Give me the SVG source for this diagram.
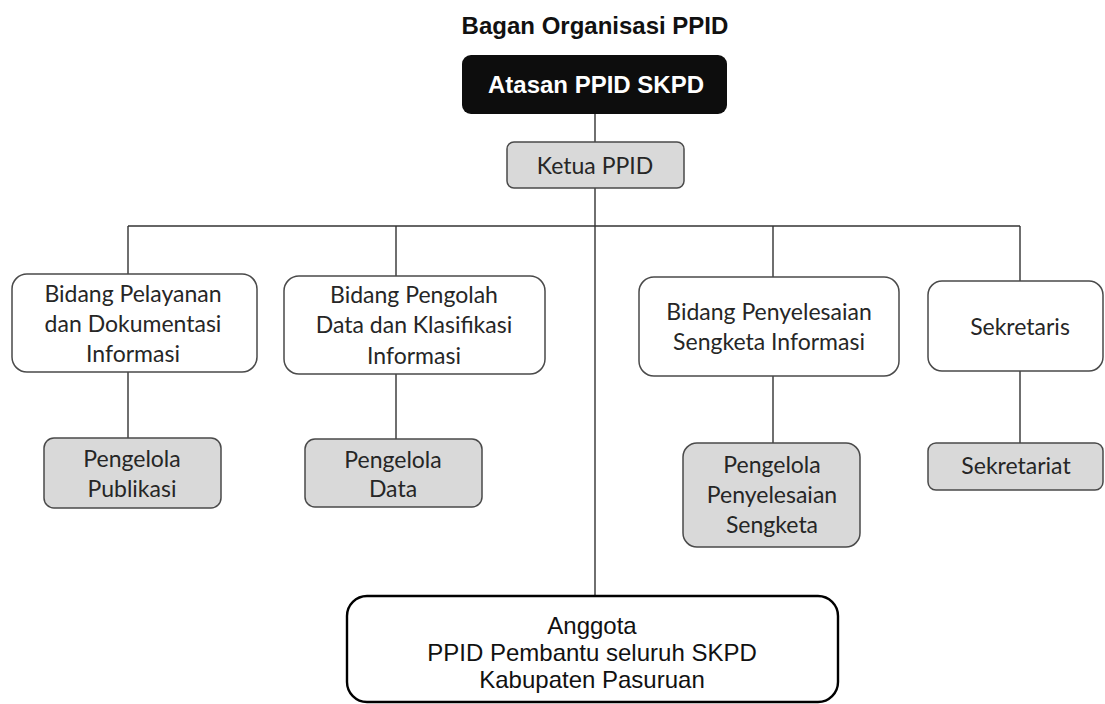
<svg xmlns="http://www.w3.org/2000/svg" width="1105" height="704" viewBox="0 0 1105 704">
<style>
.bg{fill:#ffffff}
.box{fill:#ffffff;stroke:#4a4a4a;stroke-width:1.5}
.gbox{fill:#d9d9d9;stroke:#4a4a4a;stroke-width:1.5}
.t{font-family:Lato,"Open Sans",sans-serif;font-size:23px;fill:#262626;text-anchor:middle}
.a{font-family:"Liberation Sans",Arial,sans-serif;text-anchor:middle}
.ln{stroke:#333333;stroke-width:1.4;fill:none}
</style>
<rect class="bg" x="0" y="0" width="1105" height="704"/>
<text class="a" x="595" y="34" font-size="24" font-weight="bold" fill="#111">Bagan Organisasi PPID</text>
<g id="connectors">
<path class="ln" d="M595 114V596"/>
<path class="ln" d="M128 226H1020"/>
<path class="ln" d="M128 226V274M396 226V276M773 226V277M1020 226V281"/>
<path class="ln" d="M128 372V438M396 374V439M773 376V443M1020 371V443"/>
</g>
<g id="atasan">
<rect x="462" y="55" width="265" height="59" rx="9" fill="#0d0d0d"/>
<text class="a" x="596" y="93" font-size="24" font-weight="bold" fill="#ffffff">Atasan PPID SKPD</text>
</g>
<g id="ketua">
<rect class="gbox" x="507" y="142" width="177" height="46" rx="7"/>
<text class="t" x="595" y="174">Ketua PPID</text>
</g>
<g id="bidang-pelayanan">
<rect class="box" x="12" y="274" width="245" height="98" rx="15"/>
<text class="t" x="133" y="302">Bidang Pelayanan</text>
<text class="t" x="133" y="332">dan Dokumentasi</text>
<text class="t" x="133" y="362">Informasi</text>
</g>
<g id="bidang-pengolah">
<rect class="box" x="284" y="276" width="261" height="98" rx="15"/>
<text class="t" x="414" y="303">Bidang Pengolah</text>
<text class="t" x="414" y="333">Data dan Klasifikasi</text>
<text class="t" x="414" y="364">Informasi</text>
</g>
<g id="bidang-penyelesaian">
<rect class="box" x="639" y="277" width="260" height="99" rx="15"/>
<text class="t" x="769" y="320">Bidang Penyelesaian</text>
<text class="t" x="769" y="350">Sengketa Informasi</text>
</g>
<g id="sekretaris">
<rect class="box" x="928" y="281" width="175" height="90" rx="14"/>
<text class="t" x="1020" y="335">Sekretaris</text>
</g>
<g id="pengelola-publikasi">
<rect class="gbox" x="44" y="438" width="177" height="70" rx="10"/>
<text class="t" x="132" y="467">Pengelola</text>
<text class="t" x="132" y="497">Publikasi</text>
</g>
<g id="pengelola-data">
<rect class="gbox" x="305" y="439" width="177" height="68" rx="10"/>
<text class="t" x="393" y="468">Pengelola</text>
<text class="t" x="393" y="497">Data</text>
</g>
<g id="pengelola-penyelesaian">
<rect class="gbox" x="683" y="443" width="177" height="104" rx="14"/>
<text class="t" x="772" y="473">Pengelola</text>
<text class="t" x="772" y="503">Penyelesaian</text>
<text class="t" x="772" y="533">Sengketa</text>
</g>
<g id="sekretariat">
<rect class="gbox" x="928" y="443" width="175" height="47" rx="8"/>
<text class="t" x="1016" y="474">Sekretariat</text>
</g>
<g id="anggota">
<rect x="347" y="596" width="491" height="106" rx="20" fill="#ffffff" stroke="#000" stroke-width="2.4"/>
<text class="a" x="592" y="634" font-size="24" fill="#111">Anggota</text>
<text class="a" x="592" y="661" font-size="24" fill="#111">PPID Pembantu seluruh SKPD</text>
<text class="a" x="592" y="688" font-size="24" fill="#111">Kabupaten Pasuruan</text>
</g>
</svg>
